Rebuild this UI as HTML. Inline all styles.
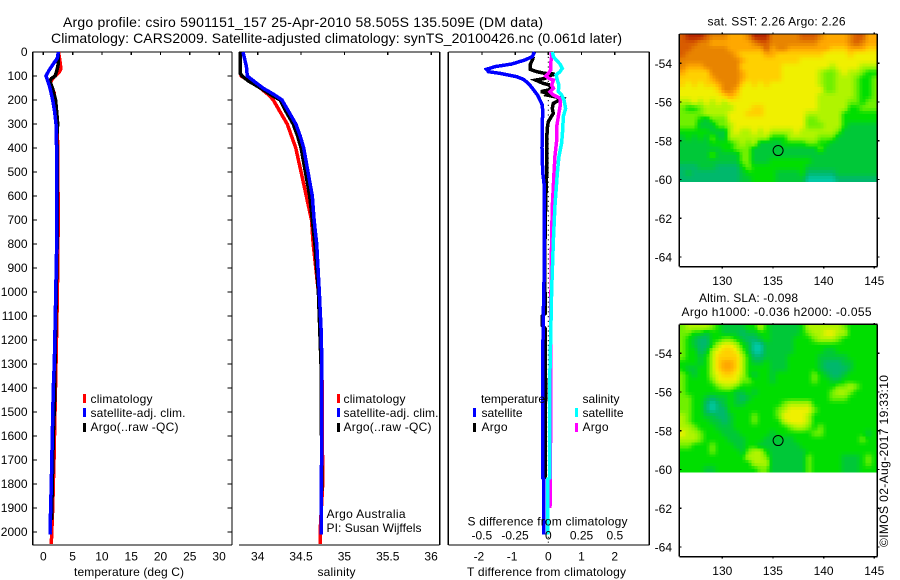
<!DOCTYPE html>
<html lang="en">
<head>
<meta charset="utf-8">
<title>Argo profile csiro 5901151_157</title>
<style>
html,body{margin:0;padding:0;background:#fff;}
svg{display:block;}
text{font-family:"Liberation Sans",sans-serif;font-size:12px;fill:#000;}
.title{font-size:14px;}
.mark{fill:none;stroke-linejoin:miter;shape-rendering:crispEdges;}
.ax{stroke:#000;stroke-width:1.3;shape-rendering:crispEdges;fill:none;}
</style>
</head>
<body>
<svg id="chart" xmlns="http://www.w3.org/2000/svg" width="900" height="580" viewBox="0 0 900 580">
  <rect x="0" y="0" width="900" height="580" fill="#fff"/>
  <text class="title" x="63" y="27" textLength="480">Argo profile: csiro 5901151_157 25-Apr-2010 58.505S 135.509E (DM data)</text>
  <text class="title" x="51" y="43" textLength="571">Climatology: CARS2009. Satellite-adjusted climatology: synTS_20100426.nc (0.061d later)</text>

  <g id="heat1"></g>
  <g id="heat2"></g>
  <g id="axes"></g>
  <g id="marks"></g>
  <g id="ticklabels"></g>

  <text x="74" y="576" textLength="110">temperature (deg C)</text>
  <text x="317.5" y="576" textLength="38">salinity</text>
  <text x="467" y="576" textLength="159">T difference from climatology</text>
  <text x="467.5" y="525.5" textLength="160">S difference from climatology</text>

  <g>
    <rect x="83" y="394" width="3" height="9" fill="#f00"/>
    <rect x="83" y="408" width="3" height="9" fill="#00f"/>
    <rect x="83" y="423" width="3" height="9" fill="#000"/>
    <text x="90.5" y="403" textLength="62">climatology</text>
    <text x="90.5" y="417" textLength="95">satellite-adj. clim.</text>
    <text x="90.5" y="431" textLength="88">Argo(..raw -QC)</text>
  </g>
  <g>
    <rect x="337" y="394" width="3" height="9" fill="#f00"/>
    <rect x="337" y="408" width="3" height="9" fill="#00f"/>
    <rect x="337" y="423" width="3" height="9" fill="#000"/>
    <text x="343.5" y="403" textLength="62">climatology</text>
    <text x="343.5" y="417" textLength="95">satellite-adj. clim.</text>
    <text x="343.5" y="431" textLength="88">Argo(..raw -QC)</text>
    <text x="326.5" y="518" textLength="79">Argo Australia</text>
    <text x="326.5" y="532" textLength="95">PI: Susan Wijffels</text>
  </g>
  <g>
    <text x="481" y="403" textLength="64">temperature</text>
    <text x="582.5" y="403" textLength="37">salinity</text>
    <rect x="473" y="408" width="3" height="9" fill="#00f"/>
    <rect x="473" y="423" width="3" height="9" fill="#000"/>
    <rect x="575" y="408" width="3" height="9" fill="#0ff"/>
    <rect x="575" y="423" width="3" height="9" fill="#f0f"/>
    <text x="481.5" y="417" textLength="41">satellite</text>
    <text x="481.5" y="431" textLength="26">Argo</text>
    <text x="582.5" y="417" textLength="41">satellite</text>
    <text x="582.5" y="431" textLength="26">Argo</text>
  </g>

  <text x="707.5" y="25.5" textLength="138">sat. SST: 2.26 Argo: 2.26</text>
  <text x="699" y="302" textLength="99">Altim. SLA: -0.098</text>
  <text x="681.5" y="316" textLength="190">Argo h1000: -0.036 h2000: -0.055</text>
  <text transform="translate(888,547) rotate(-90)" textLength="172">©IMOS 02-Aug-2017 19:33:10</text>
</svg>
<script>
// ---------- chart data ----------
const depthTicks = [0,100,200,300,400,500,600,700,800,900,1000,1100,1200,1300,1400,1500,1600,1700,1800,1900,2000];
const tempTicks = [0,5,10,15,20,25,30];
const salTicks = [34,34.5,35,35.5,36];
const salTickLabels = ['34','34.5','35','35.5','36'];
const dTempTicks = [-2,-1,0,1,2];
const dSalTicks = [-0.5,-0.25,0,0.25,0.5];
const dSalTickLabels = ['-0.5','-0.25','0','0.25','0.5'];
const lonTicks = [130,135,140,145];
const latTicks = [-54,-56,-58,-60,-62,-64];
const argoLon = 135.509;
const argoLat = -58.505;

const tempClimDepth = [0,30,70,85,100,110,130,150,170,200,350,400,700,1000,1300,1500,1700,1900,2050];
const tempClim = [2.6,2.8,3.0,2.7,2.0,1.6,1.2,1.55,1.85,2.0,2.4,2.45,2.55,2.4,2.17,2.0,1.83,1.6,1.37];
const tempArgoDepth = [0,50,80,100,110,120,150,200,250,300,350,400,800,1100,1300,1400,1600,1800,1950];
const tempArgo = [2.56,2.56,2.28,2.0,1.4,1.1,1.55,2.1,2.28,2.45,2.3,2.35,2.35,2.15,2.0,2.0,1.7,1.54,1.4];
const tempSatDepth = [0,25,50,75,100,120,150,200,250,300,350,400,800,1100,1300,1400,1600,1800,2000,2010];
const tempSat = [2.56,2.4,1.7,1.0,0.46,0.75,1.14,1.6,1.94,2.17,2.17,2.28,2.28,2.05,1.88,1.7,1.54,1.37,1.14,1.14];

const salClimDepth = [0,90,100,120,150,180,200,250,300,350,400,450,500,600,700,800,1000,1150,1300,1800,2000,2050];
const salClim = [33.8,33.8,33.81,33.9,34.03,34.13,34.18,34.26,34.34,34.39,34.44,34.47,34.5,34.56,34.62,34.64,34.7,34.72,34.74,34.75,34.72,34.72];
const salArgoDepth = [0,90,100,120,150,180,200,250,300,350,400,500,600,700,800,1000,1300,1830];
const salArgo = [33.8,33.8,33.82,33.89,34.03,34.16,34.26,34.33,34.41,34.46,34.5,34.55,34.6,34.63,34.66,34.7,34.73,34.74];
const salSatDepth = [0,30,60,100,120,150,180,200,250,300,350,400,500,600,700,800,1000,1150,1300,1700,1750,2010];
const salSat = [33.83,33.85,33.87,33.88,33.95,34.06,34.2,34.28,34.36,34.44,34.49,34.53,34.58,34.63,34.65,34.68,34.71,34.73,34.74,34.74,34.73,34.73];

const dtArgoDepth = [19,33,54,72,82,89,92,100,110,117,131,138,156,165,172,179,193,214,235,256,290,318,367,506,644,783,1000,1090,1100,1140,1150,1400,1780];
const dtArgo = [-0.45,-0.48,-0.55,-0.55,-0.35,-0.1,0.2,0,-0.1,-0.38,-0.15,0.05,0.08,-0.22,0,-0.05,0.42,0.15,0.12,0.15,0,-0.03,-0.05,-0.05,-0.08,-0.1,-0.1,-0.1,-0.18,-0.18,-0.1,-0.08,-0.1];
const dtSatDepth = [0,19,33,50,61,72,82,89,103,114,131,151,181,221,249,300,400,500,547,800,900,1100,1300,1400,1775,1780,2010];
const dtSat = [-0.42,-0.48,-0.70,-1.1,-1.6,-1.86,-1.8,-1.45,-0.95,-0.75,-0.6,-0.48,-0.32,-0.18,-0.17,-0.18,-0.19,-0.17,-0.13,-0.13,-0.12,-0.15,-0.17,-0.17,-0.17,-0.14,-0.14];
const dsArgoDepth = [0,19,47,75,89,100,110,117,138,151,165,179,193,228,269,311,367,436,506,644,783,1100,1530,1900];
const dsArgo = [0.02,0.025,0.018,0.018,0,-0.02,0.005,0.038,0.025,0.038,0.013,0.038,0.088,0.088,0.075,0.063,0.063,0.05,0.043,0.03,0.025,0.018,0.018,0.0125];
const dsSatDepth = [0,19,33,50,68,82,96,117,138,165,179,200,235,269,325,381,436,506,644,783,1000,1400,1775,1780,2010];
const dsSat = [0.03,0.038,0.058,0.088,0.105,0.088,0.058,0.068,0.08,0.075,0.10,0.118,0.13,0.113,0.108,0.10,0.08,0.068,0.05,0.038,0.025,0.01,0.01,-0.005,-0.005];

// colour ramp, one RGB stop per level (0 teal ... 11 dark red)
const levelColors = [[0,200,164],[0,184,108],[0,200,56],[0,222,0],[112,240,0],[176,244,0],[240,240,0],[255,208,0],[255,168,0],[232,132,0],[216,92,0],[184,40,0]];

const sstGrid = [
[10,11,11,11,10,9,9,9,8,8,8,9,11,11,11,9,9,9,9,9,10,10,10,9,8,8,8,8,9,10,10,8,8],
[10,10,10,9,9,8,8,8,8,8,8,8,9,10,10,9,9,9,9,9,9,9,9,8,8,8,8,8,9,10,9,8,8],
[10,10,9,9,9,9,9,9,8,8,8,8,8,8,10,8,9,9,8,8,8,8,8,8,8,7,7,7,8,8,8,7,7],
[10,9,9,9,9,9,9,9,9,8,7,7,7,7,8,8,7,7,7,7,7,7,7,7,6,6,6,6,7,6,6,6,6],
[9,9,9,9,9,9,9,9,9,9,8,7,7,7,7,7,7,7,7,7,6,6,6,6,6,6,6,6,6,6,6,6,6],
[9,8,8,8,9,9,9,9,9,9,7,7,7,7,7,7,7,6,6,6,6,6,6,6,6,5,6,6,6,6,5,5,5],
[8,7,7,7,7,9,9,9,9,9,8,7,7,7,7,7,7,6,6,6,6,6,6,5,4,4,5,6,5,5,4,3,3],
[7,7,7,7,7,8,9,9,9,9,8,7,7,7,7,7,7,6,6,6,6,6,6,5,4,4,5,5,5,4,3,3,4],
[7,6,7,6,7,7,8,9,9,9,7,6,7,6,7,6,6,6,6,6,6,6,6,5,4,4,5,5,5,4,3,3,4],
[6,6,6,6,6,6,7,9,9,8,6,6,6,6,6,6,6,6,6,6,6,6,6,6,4,4,5,5,5,4,3,3,4],
[6,6,6,6,6,6,6,7,8,7,6,6,6,6,6,6,6,6,6,6,6,6,6,5,5,5,5,5,5,4,3,3,4],
[5,5,6,5,6,5,6,5,6,6,6,6,6,6,6,6,6,6,6,6,6,6,6,5,5,5,5,5,4,4,3,4,4],
[4,3,3,4,5,5,5,5,5,6,6,6,7,7,6,6,6,6,6,6,6,6,6,5,5,5,5,5,3,3,4,4,4],
[4,4,4,4,5,5,5,5,6,6,6,7,7,7,6,6,6,6,6,6,6,5,5,5,5,5,5,3,3,3,3,3,3],
[4,4,4,3,2,4,4,4,6,6,6,6,6,6,6,6,6,6,6,6,6,4,4,5,5,5,5,3,3,3,3,3,3],
[4,4,4,2,2,2,4,4,5,6,6,6,6,6,6,6,6,6,6,6,6,4,4,4,5,5,5,3,2,2,2,2,2],
[3,3,3,3,3,2,2,2,5,6,5,5,6,5,6,5,5,5,5,6,5,5,5,5,5,5,4,2,2,2,2,2,2],
[2,3,2,3,2,4,2,2,5,5,5,5,5,5,5,3,3,3,5,5,5,5,5,4,4,4,2,2,2,2,2,2,2],
[2,2,2,2,2,3,3,3,3,4,5,4,5,2,2,2,2,3,3,3,3,4,4,3,3,2,2,2,2,2,2,2,2],
[2,2,2,2,2,2,2,3,3,4,4,4,2,2,2,2,2,2,2,2,2,2,2,4,2,2,2,2,2,2,2,2,2],
[2,2,2,2,2,4,2,2,2,2,4,4,2,2,2,2,2,2,2,2,2,2,2,2,2,2,2,2,2,2,2,2,2],
[2,2,2,2,2,2,2,2,2,2,4,4,2,2,2,3,3,3,3,3,3,3,2,2,2,2,2,2,2,2,2,2,2],
[1,1,1,2,2,2,1,1,1,1,3,4,3,3,3,3,3,3,3,3,3,2,2,2,2,2,2,2,2,2,2,2,2],
[1,2,1,1,1,1,1,1,1,1,2,3,3,3,3,3,2,2,2,2,3,1,1,1,1,1,2,2,2,2,2,2,2],
[1,1,1,1,1,1,1,1,1,1,2,2,3,3,3,3,2,2,2,2,2,0,0,0,0,0,1,1,1,1,1,1,1]
];

const slaGrid = [
[4,5,5,5,5,4,3,2,2,2,2,3,3,5,3,2,2,2,2,2,3,5,5,5,5,5,5,4,3,3,3,3,3],
[4,4,3,3,2,3,3,2,2,2,1,2,2,3,3,2,2,2,2,2,3,4,5,5,6,6,5,5,3,3,3,3,3],
[4,3,2,1,1,3,3,4,4,3,2,1,1,2,3,2,2,2,2,3,3,3,4,5,5,5,4,3,3,3,3,3,3],
[4,3,2,1,1,3,5,6,6,5,3,2,0,0,2,2,2,2,2,3,3,3,3,3,3,3,3,3,3,3,3,3,3],
[4,3,3,1,2,5,6,7,7,6,4,2,0,0,2,2,2,2,2,3,3,3,3,3,2,2,3,3,3,3,3,3,3],
[4,3,3,2,3,5,7,7,7,7,5,3,1,1,2,2,2,2,3,3,3,3,3,2,2,2,2,2,3,3,3,3,3],
[3,3,3,2,3,5,7,8,8,7,5,3,2,2,3,2,2,2,3,3,3,3,3,2,1,1,1,2,2,3,3,3,3],
[3,2,2,3,3,5,7,8,8,7,5,3,3,3,3,2,2,2,3,3,3,3,3,2,1,1,1,1,2,3,3,3,3],
[4,3,2,3,3,5,6,7,7,6,5,3,2,3,3,2,3,3,3,3,3,3,4,3,2,1,1,2,3,3,3,3,3],
[4,3,3,3,3,4,6,6,6,6,4,4,3,3,3,2,3,3,3,3,3,3,4,3,3,2,2,3,3,3,3,3,3],
[4,3,3,3,3,3,4,5,5,4,3,3,3,3,3,3,3,3,3,3,3,3,3,3,3,3,4,4,5,4,3,3,3],
[4,3,3,3,3,3,3,3,3,2,2,3,2,3,3,3,3,3,3,3,3,3,3,3,3,4,5,5,4,3,3,3,3],
[4,4,3,3,2,1,2,2,3,2,1,2,3,3,3,3,3,3,3,3,3,3,3,3,3,4,4,4,3,3,3,3,3],
[4,4,3,3,1,0,1,2,3,2,2,3,3,3,3,3,3,4,5,5,5,5,3,3,3,3,3,3,3,3,3,3,3],
[4,4,3,3,1,0,1,1,3,3,3,3,3,3,3,3,4,5,6,6,6,6,4,3,3,3,3,3,3,3,3,3,3],
[5,4,3,3,2,2,1,1,2,3,3,3,4,3,3,3,4,6,6,6,6,5,3,3,3,3,3,3,3,3,3,3,3],
[5,4,3,3,3,2,2,1,2,3,3,3,4,3,3,3,3,5,6,6,6,5,3,3,3,3,3,3,3,3,3,3,3],
[5,5,4,3,3,3,2,2,2,3,3,3,3,3,3,3,3,3,4,5,5,4,3,4,3,3,3,3,3,3,3,3,3],
[6,5,5,4,3,3,3,2,2,2,3,3,3,3,3,2,3,3,3,3,3,3,4,4,3,3,3,3,3,3,3,2,3],
[5,5,5,4,3,3,3,3,2,2,2,3,3,3,2,2,2,2,2,3,3,3,3,3,3,3,3,3,3,3,4,3,3],
[4,4,3,3,3,4,3,3,3,2,2,3,3,2,2,2,2,2,2,2,3,3,3,3,3,3,3,3,3,3,3,3,3],
[3,3,3,3,3,4,3,3,3,3,2,4,5,5,3,2,2,2,2,2,2,3,3,3,3,3,3,3,3,3,3,3,3],
[3,3,3,3,3,3,3,3,3,3,3,5,5,5,4,2,2,2,2,2,2,4,3,3,3,3,3,2,2,2,3,4,3],
[3,3,3,3,3,3,3,3,3,3,3,3,5,5,5,2,2,2,2,2,2,4,3,3,3,3,3,2,2,2,3,4,3],
[3,3,3,3,2,2,3,3,3,3,3,3,3,4,4,2,2,2,2,2,2,4,3,3,3,3,3,2,2,2,3,3,3]
];

// ---------- axis functions ----------
const NS = 'http://www.w3.org/2000/svg';
const TOP = 52, BOT = 545;
const yDepth = d => TOP + d * 0.24;
const xTemp = t => 43.3 + t * 5.86;
const xSal = s => 257.7 + (s - 34) * 86.7;
const xDT = t => 548.3 + t * 33.2;
const xDS = s => 548.3 + s * 133;
const xLon = l => 722.3 + (l - 130) * 10.13;
const yLat1 = l => 63.3 + (-54 - l) * 19.37;
const yLat2 = l => 353.3 + (-54 - l) * 19.37;

function mk(parent, tag, attrs, txt) {
  const e = document.createElementNS(NS, tag);
  for (const k in attrs) e.setAttribute(k, attrs[k]);
  if (txt !== undefined) e.textContent = txt;
  parent.appendChild(e);
  return e;
}
const axesG = document.getElementById('axes');
const marksG = document.getElementById('marks');
const labelG = document.getElementById('ticklabels');

function axLine(x1, y1, x2, y2, name) {
  const e = mk(axesG, 'line', {x1: x1, y1: y1, x2: x2, y2: y2, class: 'ax'});
  
  
}
function tickLabel(x, y, s, anchor, name) {
  const e = mk(labelG, 'text', {x: x, y: y, 'text-anchor': anchor}, s);
  
  
}
function series(depths, values, xf, color, name) {
  const pts = depths.map((d, i) => xf(values[i]).toFixed(1) + ',' + yDepth(d).toFixed(1)).join(' ');
  const e = mk(marksG, 'polyline', {points: pts, class: 'mark', stroke: color, 'stroke-width': 3.5});
  
  
}
function rampColor(v) {
  const lo = Math.max(0, Math.min(levelColors.length - 1, Math.floor(v)));
  const hi = Math.min(levelColors.length - 1, lo + 1);
  const f = Math.max(0, Math.min(1, v - lo));
  const a = levelColors[lo], b = levelColors[hi];
  return 'rgb(' + [0, 1, 2].map(i => Math.round(a[i] + (b[i] - a[i]) * f)).join(',') + ')';
}
// smooth display: each grid value is resampled onto a finer pixel block
function heat(id, grid, x0, y0, w, h) {
  const g = document.getElementById(id);
  const rows = grid.length, cols = grid[0].length, sub = 2;
  const nx = cols * sub, ny = rows * sub;
  const cw = w / nx, ch = h / ny;
  for (let j = 0; j < ny; j++) {
    for (let i = 0; i < nx; i++) {
      const u = Math.max(0, Math.min(cols - 1.001, (i + 0.5) / sub - 0.5));
      const t = Math.max(0, Math.min(rows - 1.001, (j + 0.5) / sub - 0.5));
      const c = Math.floor(u), r = Math.floor(t), fu = u - c, ft = t - r;
      const v = grid[r][c] * (1 - fu) * (1 - ft) + grid[r][c + 1] * fu * (1 - ft) +
                grid[r + 1][c] * (1 - fu) * ft + grid[r + 1][c + 1] * fu * ft;
      const cell = mk(g, 'rect', {
        x: (x0 + i * cw).toFixed(2), y: (y0 + j * ch).toFixed(2),
        width: (cw + 0.4).toFixed(2), height: (ch + 0.4).toFixed(2),
        fill: rampColor(v), 'shape-rendering': 'crispEdges'
      });
      
      
    }
  }
}

// ---------- panel 1: temperature ----------
axLine(32.7, TOP, 232, TOP, 'temperature-top-axis');
axLine(32.7, BOT, 232, BOT, 'temperature-bottom-axis');
axLine(32.7, TOP, 32.7, BOT, 'temperature-depth-axis');
axLine(232, TOP, 232, BOT, 'temperature-right-axis');
depthTicks.forEach(d => {
  axLine(32.7, yDepth(d), 37, yDepth(d), 'depth-tick');
  axLine(227.5, yDepth(d), 232, yDepth(d), 'depth-tick-right');
  tickLabel(27.5, yDepth(d) + 4, String(d), 'end', 'depth-tick-label');
});
tempTicks.forEach(t => {
  axLine(xTemp(t), TOP, xTemp(t), TOP + 3, 'temperature-tick');
  tickLabel(xTemp(t), 560.7, String(t), 'middle', 'temperature-tick-label');
});
series(tempClimDepth, tempClim, xTemp, '#f00', 'temperature-climatology-line');
series(tempArgoDepth, tempArgo, xTemp, '#000', 'temperature-argo-line');
series(tempSatDepth, tempSat, xTemp, '#00f', 'temperature-satellite-line');

// ---------- panel 2: salinity ----------
axLine(239, TOP, 439.7, TOP, 'salinity-top-axis');
axLine(239, BOT, 439.7, BOT, 'salinity-bottom-axis');
axLine(439.7, TOP, 439.7, BOT, 'salinity-right-axis');
salTicks.forEach((s, i) => {
  axLine(xSal(s), TOP, xSal(s), TOP + 3, 'salinity-tick');
  tickLabel(xSal(s), 560.7, salTickLabels[i], 'middle', 'salinity-tick-label');
});
series(salClimDepth, salClim, xSal, '#f00', 'salinity-climatology-line');
series(salArgoDepth, salArgo, xSal, '#000', 'salinity-argo-line');
series(salSatDepth, salSat, xSal, '#00f', 'salinity-satellite-line');

// ---------- panel 3: differences ----------
axLine(448.3, TOP, 649.3, TOP, 'difference-top-axis');
axLine(448.3, BOT, 649.3, BOT, 'difference-bottom-axis');
axLine(448.3, TOP, 448.3, BOT, 'difference-left-axis');
axLine(649.3, TOP, 649.3, BOT, 'difference-right-axis');
dTempTicks.forEach(t => {
  axLine(xDT(t), TOP, xDT(t), TOP + 3, 'difference-tick');
  tickLabel(xDT(t) - (t < 0 ? 3 : 0), 560.7, String(t), 'middle', 't-difference-tick-label');
});
dSalTicks.forEach((s, i) => {
  tickLabel(xDS(s), 539.3, dSalTickLabels[i], 'middle', 's-difference-tick-label');
});
const zeroLine = mk(marksG, 'line', {x1: xDT(0), y1: TOP, x2: xDT(0), y2: BOT, stroke: '#000', 'stroke-width': 1, 'stroke-dasharray': '1.2 3.6'});


series(dtArgoDepth, dtArgo, xDT, '#000', 't-difference-argo-line');
series(dsArgoDepth, dsArgo, xDS, '#f0f', 's-difference-argo-line');
series(dtSatDepth, dtSat, xDT, '#00f', 't-difference-satellite-line');
series(dsSatDepth, dsSat, xDS, '#0ff', 's-difference-satellite-line');

// ---------- maps ----------
heat('heat1', sstGrid, 679.3, 34, 198, 147.7);
heat('heat2', slaGrid, 679.3, 324.3, 198, 147.7);
function mapFrame(top, bottom, yf, labelBase, prefix) {
  axLine(679.3, top, 877.3, top, prefix + '-top-axis');
  axLine(679.3, bottom, 877.3, bottom, prefix + '-bottom-axis');
  axLine(679.3, top, 679.3, bottom, prefix + '-left-axis');
  axLine(877.3, top, 877.3, bottom, prefix + '-right-axis');
  lonTicks.forEach(l => {
    axLine(xLon(l), top - 1.5, xLon(l), top, prefix + '-lon-tick-top');
    axLine(xLon(l), bottom, xLon(l), bottom + 2, prefix + '-lon-tick');
    tickLabel(xLon(l), labelBase, String(l), 'middle', prefix + '-lon-tick-label');
  });
  latTicks.forEach(l => {
    axLine(679.3, yf(l), 681.5, yf(l), prefix + '-lat-tick');
    axLine(877.3, yf(l), 879.5, yf(l), prefix + '-lat-tick-right');
    tickLabel(672, yf(l) + 4.5, String(l), 'end', prefix + '-lat-tick-label');
  });
  const dot = mk(marksG, 'circle', {cx: xLon(argoLon), cy: yf(argoLat), r: 5, fill: 'none', stroke: '#000', 'stroke-width': 1});
  
  
}
mapFrame(34, 266.7, yLat1, 285, 'sst-map');
mapFrame(324.3, 556.7, yLat2, 575, 'sla-map');
</script>
</body>
</html>
